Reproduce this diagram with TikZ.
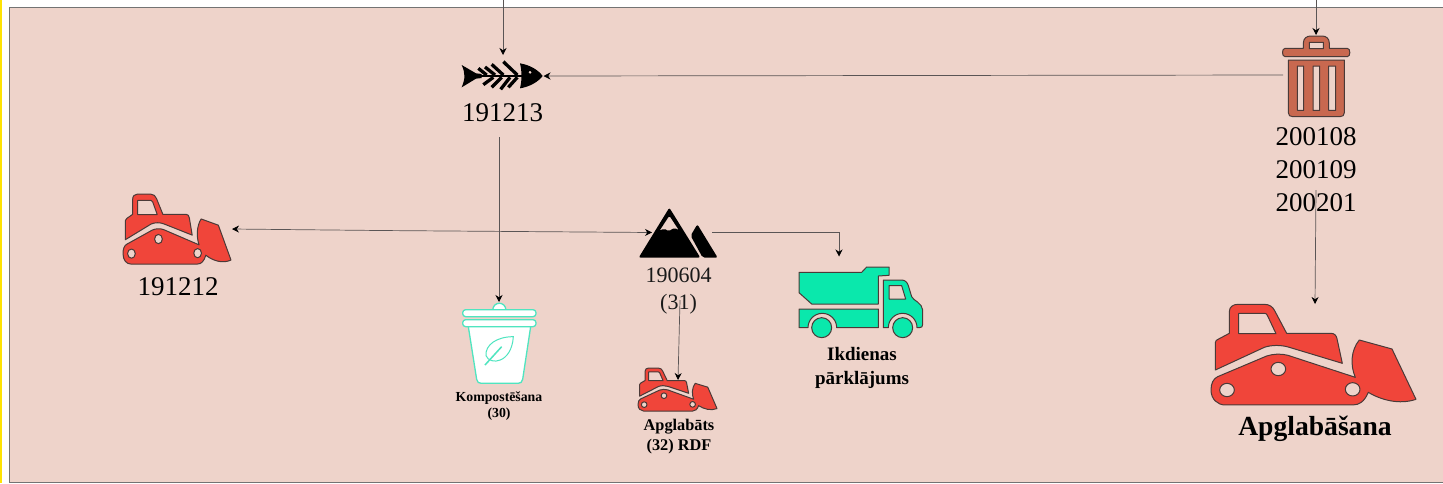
\documentclass[tikz,border=0pt]{standalone}
\usepackage{fontspec}
\setmainfont{Liberation Serif}
\usetikzlibrary{arrows.meta}
\definecolor{panelbg}{HTML}{EED3CA}
\definecolor{dozerred}{HTML}{F0453A}
\definecolor{binred}{HTML}{C8684F}
\definecolor{truckgreen}{HTML}{0AE8AC}
\definecolor{leafgreen}{HTML}{4FE5C0}
\definecolor{wirecol}{HTML}{5A5555}
\definecolor{edgecol}{HTML}{4A3A38}
\tikzset{
  iconbox/.style={inner sep=0pt,outer sep=0pt,draw=none},
  wire/.style={draw=wirecol,line width=0.7pt,-{Stealth[length=7pt,width=7pt,color=black]}},
  wiretwo/.style={draw=wirecol,line width=0.7pt,{Stealth[length=7pt,width=7pt,color=black]}-{Stealth[length=7pt,width=7pt,color=black]}},
  labelbig/.style={align=center,inner sep=0pt,font=\fontsize{27}{33}\selectfont,text=black},
  labelmid/.style={align=center,inner sep=0pt,font=\fontsize{22}{27}\selectfont,text=black!90},
  labelbold/.style 2 args={align=center,inner sep=0pt,font=\bfseries\fontsize{#1}{#2}\selectfont,text=black},
  dozerfill/.style={fill=dozerred,draw=edgecol,line width=1pt,even odd rule,line join=round},
  truckfill/.style={fill=truckgreen,draw=edgecol,line width=1pt,even odd rule,line join=round},
  binfill/.style={fill=binred,draw=edgecol,line width=1pt,even odd rule,line join=round},
  bucketfill/.style={fill=white,draw=leafgreen,line width=1.3pt,line join=round},
}
\newcommand{\dozericon}[4]{%
\begin{scope}[shift={(#1,#2)},xscale=#3,yscale=#4,shift={(-65,-42)}]
  \path[dozerfill] (78,240) -- (78,158) .. controls (78,152) and (82,150) .. (86,148) -- (120,130) -- (120,65)
    .. controls (120,50) and (132,43) .. (145,43) -- (225,43) .. controls (240,43) and (250,50) .. (256,62) -- (292,130) -- (425,130)
    .. controls (435,130) and (441,136) .. (443,146) -- (459,220) -- (300,172) .. controls (275,164) and (245,165) .. (225,172) -- cycle
    (148,70) -- (225,70) .. controls (230,70) and (232,72) .. (234,76) -- (260,131) -- (148,131) -- cycle;
  \path[dozerfill] (498,262) -- (296,196) .. controls (275,190) and (250,192) .. (232,198) -- (85,260)
    .. controls (72,266) and (65,280) .. (65,300) .. controls (65,328) and (85,345) .. (108,345) -- (490,345)
    .. controls (510,345) and (525,335) .. (537,307) .. controls (575,330) and (630,345) .. (680,328)
    -- (608,177) -- (510,150) .. controls (485,180) and (482,225) .. (498,262) -- cycle
    (135,300) arc[start angle=0,end angle=360,x radius=22,y radius=20] -- cycle
    (289,237) arc[start angle=0,end angle=360,x radius=22,y radius=20] -- cycle
    (512,298) arc[start angle=0,end angle=360,x radius=22,y radius=20] -- cycle;
\end{scope}}
\begin{document}
\begin{tikzpicture}[x=1pt,y=-1pt]
\useasboundingbox (0,0) rectangle (1443,483);
\fill[white] (0,0) rectangle (1443,483);
\fill[yellow!85!orange] (0,0) rectangle (2,483);
\path[fill=panelbg,draw=gray!90!black,line width=0.9pt] (9.5,7.5) rectangle (1450,482);

% fish
\begin{scope}[shift={(440,0)},scale=1/3]
  \fill[black] (65,195) -- (108,220) -- (125,222) -- (125,234) -- (108,236) -- (65,262) .. controls (76,235) and (76,220) .. (65,195) -- cycle;
  \draw[black,line width=2pt] (110,228) -- (245,228);
  \draw[black,line width=3.3pt] (115,205) -- (140,225) (135,201) -- (165,225) (155,193) -- (190,225) (190,185) -- (232,225);
  \draw[black,line width=3.3pt] (160,232) -- (130,254) (185,232) -- (155,262) (210,232) -- (182,268) (232,232) -- (205,262);
  \fill[black,even odd rule] (240,190) .. controls (270,195) and (295,210) .. (308,228) .. controls (295,245) and (270,260) .. (240,265) .. controls (246,240) and (246,215) .. (240,190) -- cycle
    (270,217) circle[radius=5];
\end{scope}
% bin
\begin{scope}[shift={(1240,0)},scale=1/3]
  \path[binfill] (190,145) -- (190,130) .. controls (190,115) and (200,108) .. (212,108) -- (246,108) .. controls (258,108) and (268,115) .. (268,130) -- (268,145)
   -- (322,145) .. controls (332,145) and (332,170) .. (322,170) -- (135,170) .. controls (125,170) and (125,145) .. (135,145) -- cycle
   (208,127) rectangle (250,146);
  \path[binfill] (145,180) -- (313,180) -- (313,338) .. controls (313,346) and (308,350) .. (300,350) -- (158,350) .. controls (150,350) and (145,346) .. (145,338) -- cycle
   (172,198) rectangle (191,331) (219,198) rectangle (239,331) (266,198) rectangle (287,331);
\end{scope}
% mountain
\begin{scope}[shift={(620,195)},scale=1/3]
  \fill[black,even odd rule,rounded corners=2pt] (148,38) -- (241,188) -- (56,188) -- cycle
    (148,62) -- (118,108) -- (132,100) -- (146,109) -- (163,98) -- (177,106) -- cycle;
  \fill[black,rounded corners=2pt] (232,88) -- (293,188) -- (248,188) -- (212,122) -- cycle;
\end{scope}
% truck
\begin{scope}[shift={(780,225)},scale=1/3]
  \path[truckfill] (57,142) -- (245,142) -- (260,126) -- (327,126) -- (327,151) -- (295,153) -- (295,237) -- (95,237) -- (57,203) -- cycle;
  \path[truckfill] (57,252) -- (295,252) -- (295,308) -- (170,308) arc[start angle=0,end angle=-180,radius=43] -- (57,308) -- cycle;
  \path[truckfill] (310,165) -- (365,165) .. controls (375,165) and (382,172) .. (385,182) -- (395,215) .. controls (398,225) and (428,235) .. (428,255) -- (428,298) .. controls (428,305) and (425,308) .. (418,308) -- (411,308) arc[start angle=0,end angle=-180,radius=43] -- (310,308) -- cycle
    (327,182) -- (365,182) -- (377,222) -- (327,222) -- cycle;
  \path[truckfill] (125,308) circle[radius=30] (368,308) circle[radius=30];
\end{scope}
% bucket
\begin{scope}[shift={(440,295)},scale=1/3]
  \path[bucketfill] (158,45) .. controls (160,18) and (196,18) .. (198,45) -- cycle;
  \path[bucketfill,rounded corners=3pt] (68,44) rectangle (288,65);
  \path[bucketfill,rounded corners=3pt] (68,74) rectangle (288,95);
  \path[bucketfill] (85,95) -- (110,253) .. controls (112,262) and (116,265) .. (124,265) -- (234,265) .. controls (242,265) and (246,262) .. (248,253) -- (272,95) -- cycle;
  \draw[leafgreen,line width=1pt] (220,125) .. controls (170,125) and (135,150) .. (138,182) .. controls (150,212) and (215,205) .. (220,125) -- cycle;
  \draw[leafgreen,line width=1.5pt] (135,210) -- (185,155);
\end{scope}
% dozers
\dozericon{123}{194}{0.1756}{0.231}
\dozericon{638}{368}{0.1285}{0.142}
\dozericon{1211}{304}{0.3333}{0.3333}

% anchor boxes
\node[iconbox,minimum width=81pt,minimum height=42pt] (fish) at (503,76) {};
\node[iconbox,minimum width=66pt,minimum height=80pt] (bin) at (1316,75) {};
\node[iconbox,minimum width=108pt,minimum height=70pt] (dozerA) at (178,229) {};
\node[iconbox,minimum width=60pt,minimum height=50pt] (peak) at (682,232.5) {};
\node[iconbox,minimum width=126pt,minimum height=81pt] (truck) at (839,297) {};
\node[iconbox,minimum width=74pt,minimum height=116pt] (bucket) at (499,360) {};
\node[iconbox,minimum width=80pt,minimum height=30pt] (dozerB) at (678,395) {};
\node[iconbox,minimum width=200pt,minimum height=101pt] (dozerC) at (1315,354.5) {};

% labels
\node[labelbig] (lfish) at (502.5,113) {191213};
\node[labelbig] (lbin) at (1316,170) {200108\\200109\\200201};
\node[labelbig] (ldozerA) at (178,287) {191212};
\node[labelmid] (lpeak) at (678.5,291) {190604\\(31)};
\node[labelbold={19}{23.5}] (ltruck) at (862,368) {Ikdienas\\pārklājums};
\node[labelbold={13.8}{16.5}] (lbucket) at (499,406) {Kompostēšana\\(30)};
\node[labelbold={16.3}{20}] (ldozerB) at (679,437) {Apglabāts\\(32) RDF};
\node[labelbold={27.6}{30}] (ldozerC) at (1315,429) {Apglabāšana};

% connectors
\coordinate (topA) at (503,0);
\coordinate (topB) at (1316,0);
\coordinate (fromfish) at (499,137);
\coordinate (frombin) at (1316,190);
\coordinate (frompeak) at (680,300);
\draw[wire] (topA) -- (fish.north);
\draw[wire] (topB) -- (bin.north);
\draw[wire] (bin.west) -- (fish.east);
\draw[wire] (fromfish) -- (bucket.north);
\draw[wire] (frombin) -- (dozerC.north);
\draw[wire] (frompeak) -- (dozerB.north);
\draw[wiretwo] (dozerA.east) -- (380,230.5) -- (peak.west);
\draw[wire] (peak.east) -- (truck.north |- peak.east) -- (truck.north);
\end{tikzpicture}
\end{document}
